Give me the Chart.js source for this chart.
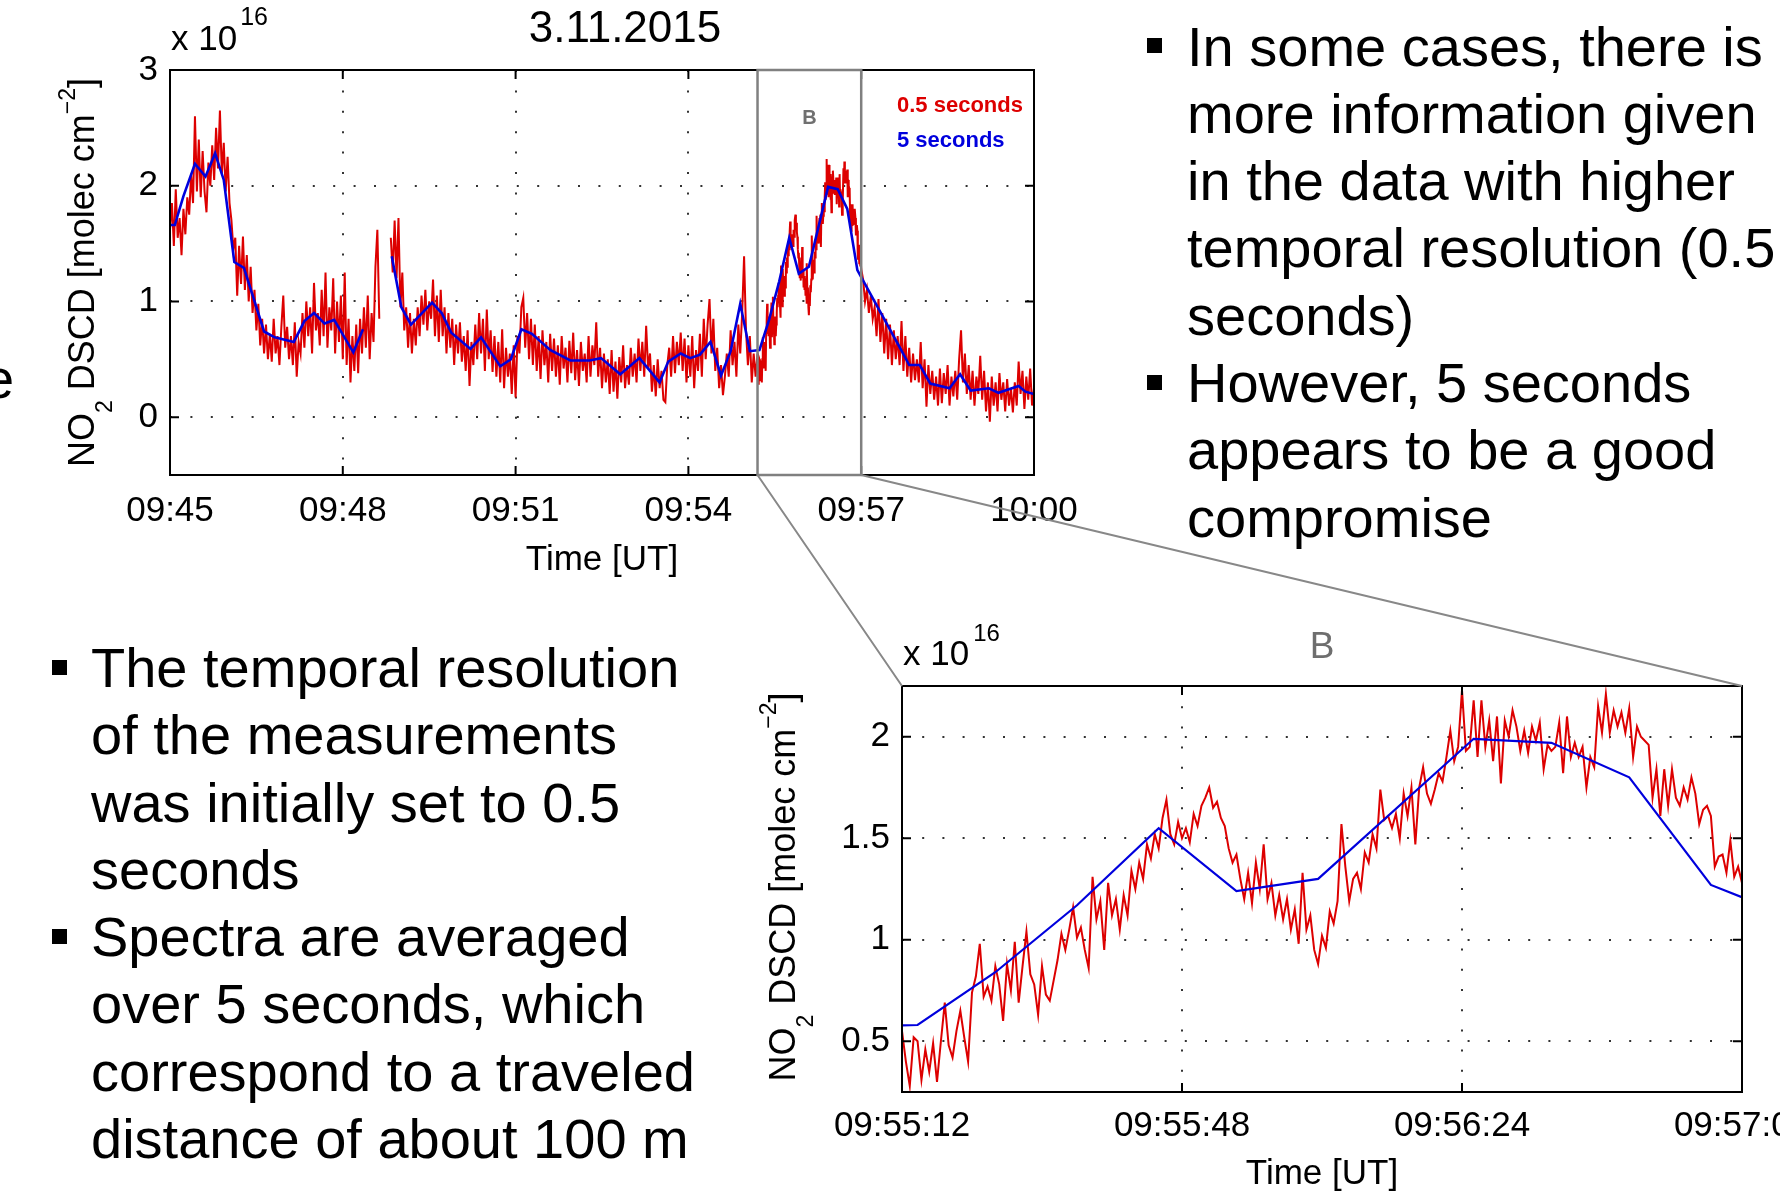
<!DOCTYPE html>
<html>
<head>
<meta charset="utf-8">
<script src="https://cdn.jsdelivr.net/npm/chart.js@4.4.1/dist/chart.umd.min.js"></script>
<style>
  html, body { margin: 0; padding: 0; background: #fff; }
  body { width: 1780px; height: 1196px; position: relative; overflow: hidden;
         font-family: 'Liberation Sans', Arial, Helvetica, sans-serif; color: #000; }
  canvas { position: absolute; }
  .txt { position: absolute; font-size: 56px; line-height: 67.3px; white-space: nowrap; }
  .sq { position: absolute; width: 15px; height: 15px; background: #000; }
</style>
</head>
<body>
<canvas id="mainChart" width="1100" height="600" style="left:0;top:0"></canvas>
<canvas id="zoomChart" width="1040" height="636" style="left:740px;top:560px"></canvas>
<canvas id="links" width="1780" height="1196" style="left:0;top:0;pointer-events:none"></canvas>

<div class="txt" style="left:-17px;top:345px">e</div>

<div class="sq" style="left:1147px;top:38px"></div>
<div class="sq" style="left:1147px;top:375px"></div>
<div class="txt" style="left:1187px;top:12.5px">In some cases, there is<br>more information given<br>in the data with higher<br>temporal resolution (0.5<br>seconds)<br>However, 5 seconds<br>appears to be a good<br>compromise</div>

<div class="sq" style="left:52px;top:660px"></div>
<div class="sq" style="left:52px;top:929px"></div>
<div class="txt" style="left:91px;top:634px">The temporal resolution<br>of the measurements<br>was initially set to 0.5<br>seconds<br>Spectra are averaged<br>over 5 seconds, which<br>correspond to a traveled<br>distance of about 100 m</div>

<script>
// time axis: seconds after 09:45:00 UT, values in 1e16 molec cm^-2
const mainXTicks = [0, 180, 360, 540, 720, 900];
const mainXLabels = ['09:45', '09:48', '09:51', '09:54', '09:57', '10:00'];
const mainYTicks = [0, 1, 2, 3];
const mainYLabels = ['0', '1', '2', '3'];
const zoomXTicks = [612, 648, 684, 720];
const zoomXLabels = ['09:55:12', '09:55:48', '09:56:24', '09:57:00'];
const zoomYTicks = [0.5, 1, 1.5, 2];
const zoomYLabels = ['0.5', '1', '1.5', '2'];
const boxB = [612, 720];

// 0.5 s series: t = 0..610 every 2 s
const redEarly = [
  1.62,1.85,1.48,1.97,1.55,1.72,1.40,1.80,1.58,1.90,
  1.75,2.10,1.85,2.60,1.95,2.40,1.90,2.30,1.95,1.77,
  2.20,2.00,2.35,2.05,2.50,2.15,2.65,2.10,2.37,1.95,
  2.25,1.85,1.70,1.45,1.55,1.05,1.48,1.15,1.56,1.10,
  1.40,1.00,1.30,0.90,1.10,0.75,0.98,0.62,0.85,0.55,
  0.80,0.50,0.72,0.48,0.85,0.55,0.70,0.45,0.78,1.05,
  0.60,0.78,0.50,0.70,0.45,0.82,0.35,0.65,0.55,0.90,
  0.60,1.00,0.70,0.95,0.55,1.16,0.75,0.90,0.62,1.10,
  0.70,1.25,0.60,0.95,0.75,1.20,0.55,1.00,0.65,1.05,
  0.50,1.25,0.45,0.85,0.30,0.70,0.40,0.80,0.38,0.85,
  0.55,0.95,0.60,1.05,0.50,0.90,0.65,1.30,1.62,0.85,
  null,null,null,null,null,1.55,1.25,1.70,1.20,1.72,
  0.95,1.25,0.75,0.95,0.60,0.90,0.55,0.85,0.62,0.95,
  0.70,1.05,0.80,1.10,0.75,1.00,0.85,1.19,0.70,1.05,
  0.65,1.10,0.70,0.95,0.55,0.90,0.60,0.85,0.45,0.80,
  0.55,0.82,0.48,0.70,0.40,0.75,0.27,0.65,0.45,0.80,
  0.50,0.90,0.55,0.85,0.40,0.93,0.50,0.75,0.39,0.70,
  0.35,0.65,0.30,0.76,0.25,0.60,0.35,0.55,0.20,0.62,
  0.17,0.70,0.55,0.95,1.03,0.60,0.90,0.50,0.85,0.45,
  0.80,0.40,0.70,0.33,0.75,0.45,0.65,0.30,0.72,0.40,
  0.68,0.35,0.62,0.28,0.70,0.42,0.60,0.30,0.66,0.38,
  0.73,0.32,0.58,0.27,0.65,0.40,0.55,0.30,0.70,0.35,
  0.62,0.45,0.82,0.35,0.60,0.25,0.55,0.30,0.50,0.20,
  0.58,0.22,0.48,0.16,0.52,0.30,0.62,0.25,0.45,0.28,
  0.60,0.35,0.55,0.30,0.68,0.40,0.65,0.35,0.79,0.42,
  0.55,0.22,0.45,0.18,0.50,0.25,0.40,0.15,0.13,0.45,
  0.60,0.35,0.70,0.38,0.65,0.45,0.73,0.40,0.68,0.30,
  0.62,0.35,0.70,0.25,0.58,0.40,0.72,0.35,0.85,0.50,
  0.80,1.02,0.55,0.85,0.40,0.60,0.25,0.45,0.19,0.35,
  0.55,0.35,0.75,0.45,0.65,0.35,0.80,0.55,0.90,1.39,
  0.75,0.45,0.70,0.30,0.55,0.35
];
// window B, t = 612..720 every 0.5 s
const redZoom = [
  0.55,0.40,0.28,0.52,0.50,0.31,0.46,0.35,0.49,0.30,
  0.50,0.69,0.48,0.42,0.55,0.65,0.52,0.40,0.74,0.82,
  0.98,0.72,0.77,0.70,0.87,0.78,0.60,0.88,0.75,0.99,
  0.69,0.87,1.04,0.83,0.78,0.63,0.87,0.73,0.70,0.80,
  0.90,1.03,0.95,1.05,1.16,1.01,1.06,0.95,0.86,1.31,
  1.10,1.19,0.95,1.28,1.12,1.20,1.05,1.22,1.12,1.34,
  1.25,1.38,1.30,1.47,1.40,1.52,1.45,1.60,1.69,1.52,
  1.47,1.58,1.50,1.55,1.48,1.62,1.56,1.66,1.70,1.75,
  1.65,1.68,1.60,1.56,1.45,1.38,1.42,1.30,1.20,1.33,
  1.18,1.38,1.25,1.47,1.20,1.28,1.12,1.22,1.10,1.20,
  1.05,1.15,0.98,1.33,1.05,1.12,0.95,0.88,1.02,0.96,
  1.14,1.08,1.19,1.57,1.36,1.19,1.30,1.33,1.25,1.43,
  1.38,1.52,1.45,1.74,1.59,1.61,1.55,1.62,1.50,1.72,
  1.61,1.75,1.47,1.75,1.85,1.72,1.67,1.74,1.82,1.78,
  1.90,2.03,1.88,1.95,2.23,1.93,1.95,2.18,1.90,2.18,
  1.95,2.08,1.88,2.10,1.77,2.08,2.00,2.13,2.05,1.93,
  2.03,1.92,2.05,1.98,2.07,1.84,1.96,1.93,1.95,2.07,
  1.82,2.10,1.90,1.97,1.90,1.95,1.75,1.90,1.85,2.15,
  2.02,2.21,2.02,2.13,2.05,2.12,2.02,2.14,1.90,2.05,
  2.00,1.98,1.96,1.70,1.84,1.61,1.84,1.66,1.84,1.70,
  1.66,1.75,1.69,1.80,1.72,1.57,1.64,1.66,1.61,1.36,
  1.41,1.42,1.33,1.49,1.31,1.36,1.28
];
// t = 722..900 every 2 s
const redLate = [
  1.19,1.00,1.10,0.90,1.05,0.85,0.95,0.70,1.02,0.65,
  0.90,0.55,0.85,0.50,0.80,0.45,0.75,0.50,0.70,0.45,
  0.83,0.40,0.70,0.35,0.60,0.30,0.55,0.32,0.50,0.30,
  0.65,0.25,0.50,0.09,0.45,0.20,0.40,0.15,0.35,0.10,
  0.42,0.12,0.38,0.20,0.45,0.10,0.35,0.18,0.40,0.15,
  0.50,0.75,0.30,0.55,0.20,0.45,0.15,0.40,0.10,0.35,
  0.20,0.53,0.15,0.40,0.05,0.30,-0.04,0.35,0.10,0.30,
  0.05,0.38,0.15,0.30,0.05,0.33,0.10,0.25,0.04,0.30,
  0.10,0.48,0.20,0.40,0.07,0.35,0.15,0.42,0.10,0.25
];

// 5 s series (vertices as seen on the plot)
const blueTimes = [0,5,14,26,37,47,56,67,77,98,109,129,140,150,161,171,191,201,216,231,
  241,251,273,283,293,313,324,344,355,366,377,396,417,437,449,469,489,510,519,532,
  542,552,563,574,584,594,604,614,624,634.5,645,655,665.5,685.5,695.5,705.5,716,761,770,781,
  792,812,823,834,853,863,884,891,900];
const blueValues = [1.66,1.66,1.91,2.19,2.08,2.28,2.05,1.34,1.29,0.74,0.69,0.65,0.83,0.90,0.81,0.84,0.56,0.76,null,1.39,
  0.95,0.80,0.99,0.90,0.73,0.59,0.69,0.44,0.50,0.76,0.72,0.58,0.49,0.49,0.51,0.37,0.51,0.30,0.48,0.55,
  0.51,0.54,0.65,0.36,0.57,0.98,0.57,0.58,0.84,1.17,1.55,1.24,1.30,1.99,1.97,1.80,1.27,0.59,0.45,0.45,
  0.29,0.25,0.37,0.23,0.25,0.21,0.27,0.22,0.20];

const RED = '#dd0000';
const BLUE = '#0000dd';
const FONT = "'Liberation Sans', Arial, Helvetica, sans-serif";

const redPoints = [];
redEarly.forEach((v, i) => redPoints.push({ x: i * 2, y: v }));
redZoom.forEach((v, i) => redPoints.push({ x: 612 + i * 0.5, y: v }));
redLate.forEach((v, i) => redPoints.push({ x: 722 + i * 2, y: v }));
const bluePoints = blueTimes.map((t, i) => ({ x: t, y: blueValues[i] }));

function yLabel(big, small) {
  return [
    { t: 'NO', size: big },
    { t: '2', size: small, dy: 18 },
    { t: ' DSCD [molec cm', size: big },
    { t: '\u22122', size: small, dy: -19 },
    { t: ']', size: big }
  ];
}

const notes = {
  mainChart: [
    { x: 625, y: 42, align: 'center', parts: [{ t: '3.11.2015', size: 44 }] },
    { x: 171, y: 50, parts: [{ t: 'x 10', size: 35 }, { t: '16', size: 25, dy: -25, gap: 3 }] },
    { x: 897, y: 112, parts: [{ t: '0.5 seconds', size: 22, bold: true, color: RED }] },
    { x: 897, y: 147, parts: [{ t: '5 seconds', size: 22, bold: true, color: BLUE }] },
    { xVal: (boxB[0] + boxB[1]) / 2, y: 124, align: 'center', parts: [{ t: 'B', size: 20, bold: true, color: '#707070' }] },
    { x: 94, y: 'mid', align: 'center', rotate: true, parts: yLabel(36, 23) },
    { x: 'mid', y: 570, align: 'center', parts: [{ t: 'Time [UT]', size: 35 }] }
  ],
  zoomChart: [
    { x: 163, y: 105, parts: [{ t: 'x 10', size: 35 }, { t: '16', size: 24, dy: -24, gap: 4 }] },
    { x: 'mid', y: 98, align: 'center', parts: [{ t: 'B', size: 37, color: '#6e6e6e' }] },
    { x: 55, y: 'mid', dyMid: -2, align: 'center', rotate: true, parts: yLabel(36, 23) },
    { x: 'mid', y: 624, align: 'center', parts: [{ t: 'Time [UT]', size: 35 }] }
  ]
};

function partFont(p) { return (p.bold ? 'bold ' : '') + p.size + 'px ' + FONT; }

function drawNote(chart, n) {
  const ctx = chart.ctx, a = chart.chartArea;
  let x = n.x, y = n.y;
  if (n.xVal !== undefined) x = chart.scales.x.getPixelForValue(n.xVal);
  if (x === 'mid') x = (a.left + a.right) / 2;
  if (y === 'mid') y = (a.top + a.bottom) / 2 + (n.dyMid || 0);
  ctx.save();
  ctx.translate(x, y);
  if (n.rotate) ctx.rotate(-Math.PI / 2);
  ctx.textAlign = 'left';
  ctx.textBaseline = 'alphabetic';
  let w = 0;
  n.parts.forEach(p => { ctx.font = partFont(p); p.w = ctx.measureText(p.t).width; w += p.w + (p.gap || 0); });
  let cx = n.align === 'center' ? -w / 2 : 0;
  n.parts.forEach(p => {
    ctx.font = partFont(p);
    ctx.fillStyle = p.color || '#000';
    cx += p.gap || 0;
    ctx.fillText(p.t, cx, p.dy || 0);
    cx += p.w;
  });
  ctx.restore();
}

// matlab style box, inward ticks, window B and labels
const matlabFrame = {
  id: 'matlabFrame',
  afterDatasetsDraw(chart) {
    const { ctx, chartArea: a } = chart;
    const xs = chart.scales.x, ys = chart.scales.y;
    const tl = 9;
    ctx.save();
    ctx.strokeStyle = '#000';
    ctx.lineWidth = 2;
    ctx.beginPath();
    xs.ticks.forEach(t => {
      const px = xs.getPixelForValue(t.value);
      ctx.moveTo(px, a.bottom); ctx.lineTo(px, a.bottom - tl);
      ctx.moveTo(px, a.top); ctx.lineTo(px, a.top + tl);
    });
    ys.ticks.forEach(t => {
      const py = ys.getPixelForValue(t.value);
      ctx.moveTo(a.left, py); ctx.lineTo(a.left + tl, py);
      ctx.moveTo(a.right, py); ctx.lineTo(a.right - tl, py);
    });
    ctx.stroke();
    ctx.strokeRect(a.left, a.top, a.right - a.left, a.bottom - a.top);
    if (chart.canvas.id === 'mainChart') {
      const l = xs.getPixelForValue(boxB[0]), r = xs.getPixelForValue(boxB[1]);
      ctx.strokeStyle = '#808080';
      ctx.lineWidth = 2.5;
      ctx.strokeRect(l, a.top, r - l, a.bottom - a.top);
    }
    ctx.restore();
    (notes[chart.canvas.id] || []).forEach(n => drawNote(chart, n));
  }
};

function makeChart(id, cfg) {
  const dash = [2, cfg.dotGap];
  return new Chart(document.getElementById(id), {
    type: 'line',
    data: {
      // first dataset is painted last, so the 5 s line sits on top
      datasets: [
        { data: bluePoints, borderColor: BLUE, borderWidth: cfg.blueWidth, pointRadius: 0, tension: 0, spanGaps: false },
        { data: redPoints, borderColor: RED, borderWidth: cfg.redWidth, pointRadius: 0, tension: 0, spanGaps: false }
      ]
    },
    options: {
      responsive: false,
      animation: false,
      devicePixelRatio: 1,
      layout: { padding: cfg.padding },
      plugins: { legend: { display: false }, tooltip: { enabled: false } },
      scales: {
        x: {
          type: 'linear', min: cfg.xMin, max: cfg.xMax,
          afterBuildTicks: s => { s.ticks = cfg.xTicks.map(v => ({ value: v })); },
          afterFit: s => { s.height = cfg.xHeight; s.paddingLeft = s.paddingRight = s.paddingTop = s.paddingBottom = 0; },
          ticks: { autoSkip: false, maxRotation: 0, padding: cfg.xPad, color: '#000',
                   font: { family: FONT, size: 35 }, callback: (v, i) => cfg.xLabels[i] },
          grid: { color: '#333', lineWidth: 2, drawTicks: false },
          border: { display: false, dash: dash }
        },
        y: {
          type: 'linear', min: cfg.yMin, max: cfg.yMax,
          afterBuildTicks: s => { s.ticks = cfg.yTicks.map(v => ({ value: v })); },
          afterFit: s => { s.width = cfg.yWidth; s.paddingLeft = s.paddingRight = s.paddingTop = s.paddingBottom = 0; },
          ticks: { padding: 12, color: '#000', font: { family: FONT, size: 35 },
                   callback: (v, i) => cfg.yLabels[i] },
          grid: { color: '#333', lineWidth: 2, drawTicks: false },
          border: { display: false, dash: dash }
        }
      }
    },
    plugins: [matlabFrame]
  });
}

const mainChart = makeChart('mainChart', {
  padding: { left: 0, top: 70, right: 66, bottom: 0 },
  xMin: 0, xMax: 900, xTicks: mainXTicks, xLabels: mainXLabels, xHeight: 125, xPad: 15,
  yMin: -0.5, yMax: 3, yTicks: mainYTicks, yLabels: mainYLabels, yWidth: 170,
  redWidth: 2, blueWidth: 2.6, dotGap: 18.4
});

const zoomChart = makeChart('zoomChart', {
  padding: { left: 0, top: 126, right: 38, bottom: 0 },
  xMin: boxB[0], xMax: boxB[1], xTicks: zoomXTicks, xLabels: zoomXLabels, xHeight: 104, xPad: 13,
  yMin: 0.25, yMax: 2.25, yTicks: zoomYTicks, yLabels: zoomYLabels, yWidth: 162,
  redWidth: 2, blueWidth: 2.2, dotGap: 18.2
});

// connector lines from window B to the zoomed plot
const lc = document.getElementById('links').getContext('2d');
const mc = mainChart.canvas, zc = zoomChart.canvas;
const ma = mainChart.chartArea, za = zoomChart.chartArea;
const mx = mainChart.scales.x;
lc.strokeStyle = '#888';
lc.lineWidth = 2;
lc.beginPath();
lc.moveTo(mc.offsetLeft + mx.getPixelForValue(boxB[0]), mc.offsetTop + ma.bottom);
lc.lineTo(zc.offsetLeft + za.left, zc.offsetTop + za.top);
lc.moveTo(mc.offsetLeft + mx.getPixelForValue(boxB[1]), mc.offsetTop + ma.bottom);
lc.lineTo(zc.offsetLeft + za.right, zc.offsetTop + za.top);
lc.stroke();
</script>
</body>
</html>
